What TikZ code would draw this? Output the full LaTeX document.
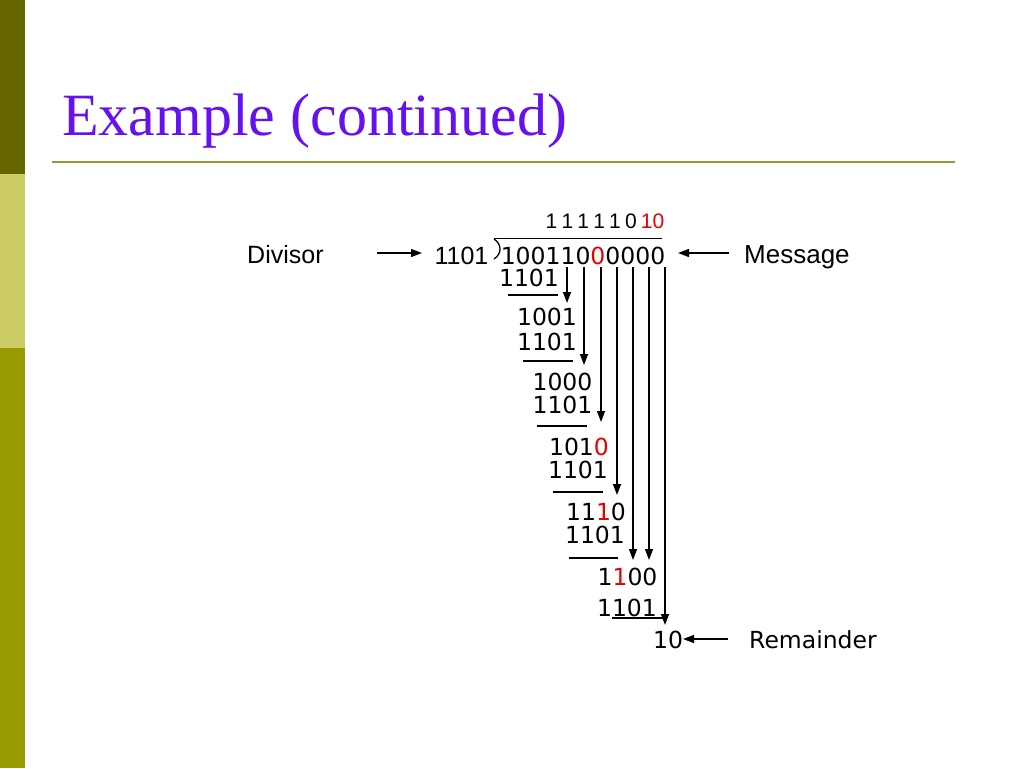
\documentclass[tikz,border=0pt]{standalone}
\usepackage{fontspec}
\setmainfont{Liberation Serif}
\newfontfamily\arialf{Liberation Sans}
\newfontfamily\verdf{DejaVu Sans}
\usetikzlibrary{arrows.meta}
\definecolor{titlec}{RGB}{102,17,240}
\definecolor{rulec}{RGB}{153,153,51}
\definecolor{bardark}{RGB}{102,102,0}
\definecolor{barlight}{RGB}{204,204,102}
\definecolor{barmid}{RGB}{153,153,0}
\definecolor{redd}{RGB}{230,0,0}
\newcommand{\rd}[1]{\textcolor{redd}{#1}}
\newcommand{\qs}{\hspace{0.2em}}
\tikzset{
  digits/.style={inner sep=0pt, anchor=base, font=\verdf\fontsize{23.5}{28}\selectfont},
  label/.style={inner sep=0pt, anchor=base west, font=\arialf\fontsize{25}{30}\selectfont},
  quot/.style={inner sep=0pt, anchor=base, font=\arialf\fontsize{21}{25}\selectfont},
  bar/.style={line width=1.3pt},
  arr/.style={line width=1.3pt, -{Triangle[length=11pt,width=8pt]}},
}
\begin{document}
\begin{tikzpicture}[x=1pt,y=-1pt]
\useasboundingbox (0,0) rectangle (1024,768);
\fill[white] (0,0) rectangle (1024,768);
% left bar
\fill[bardark] (0,0) rectangle (25,174);
\fill[barlight] (0,174) rectangle (25,348);
\fill[barmid] (0,348) rectangle (25,768);
% title
\node[inner sep=0pt, anchor=base west, text=titlec, font=\fontsize{60}{70}\selectfont] (title) at (62,135) {Example (continued)};
\draw[rulec, line width=2.5pt] (52,162) -- (955,162);

% quotient
\node[quot] (q) at (605,228) {1\qs1\qs1\qs1\qs1\qs0\qs\rd{10}};
% divisor and bracket
\node[inner sep=0pt, anchor=base, font=\arialf\fontsize{25}{30}\selectfont] (dv) at (461.5,264) {1101};
\draw[bar] (494,239) .. controls (502,244) and (502,254) .. (494,259);
\draw[bar] (494,238.5) -- (662,238.5);
% dividend
\node[digits] (msg) at (583,264) {100110\rd{0}0000};

\node[digits] (r1) at (529,286) {1101};
\draw[bar] (508,295) -- (558,295);
\node[digits] (r2) at (547,325) {1001};
\node[digits] (r3) at (547,350) {1101};
\draw[bar] (523,361) -- (573,361);
\node[digits] (r4) at (562.5,390) {1000};
\node[digits] (r5) at (562.5,413) {1101};
\draw[bar] (537,426) -- (587,426);
\node[digits] (r6) at (579,455) {101\rd{0}};
\node[digits] (r7) at (578,478) {1101};
\draw[bar] (553,492) -- (603,492);
\node[digits] (r8) at (596,520) {11\rd{1}0};
\node[digits] (r9) at (595,543) {1101};
\draw[bar] (569,558) -- (618,558);
\node[digits] (r10) at (627.5,585) {1\rd{1}00};
\node[digits] (r11) at (627,616) {1101};
\draw[bar] (612,618) -- (663,618);
\node[digits] (rem) at (668,648) {10};

% bring-down arrows
\coordinate (t1) at (567,267); \coordinate (e1) at (567,303);
\coordinate (t2) at (584,267); \coordinate (e2) at (584,365);
\coordinate (t3) at (601,267); \coordinate (e3) at (601,422);
\coordinate (t4) at (617,267); \coordinate (e4) at (617,495);
\coordinate (t5) at (633,267); \coordinate (e5) at (633,560);
\coordinate (t6) at (649,267); \coordinate (e6) at (649,560);
\coordinate (t7) at (665,267); \coordinate (e7) at (665,625);
\foreach \i in {1,...,7} {\draw[arr] (t\i) -- (e\i);}

% labels
\node[label] (divl) at (247,263) {Divisor};
\node[label, font=\arialf\fontsize{26}{30}\selectfont] (msgl) at (744,263) {Message};
\node[label, font=\verdf\fontsize{23.5}{28}\selectfont] (reml) at (749,648) {Remainder};
\coordinate (da) at (377,253); \coordinate (db) at (422,253);
\draw[arr] (da) -- (db);
\coordinate (ma) at (729,253); \coordinate (mb) at (678,253);
\draw[arr] (ma) -- (mb);
\coordinate (ra) at (728,639); \coordinate (rb) at (683,639);
\draw[arr] (ra) -- (rb);
\end{tikzpicture}
\end{document}
